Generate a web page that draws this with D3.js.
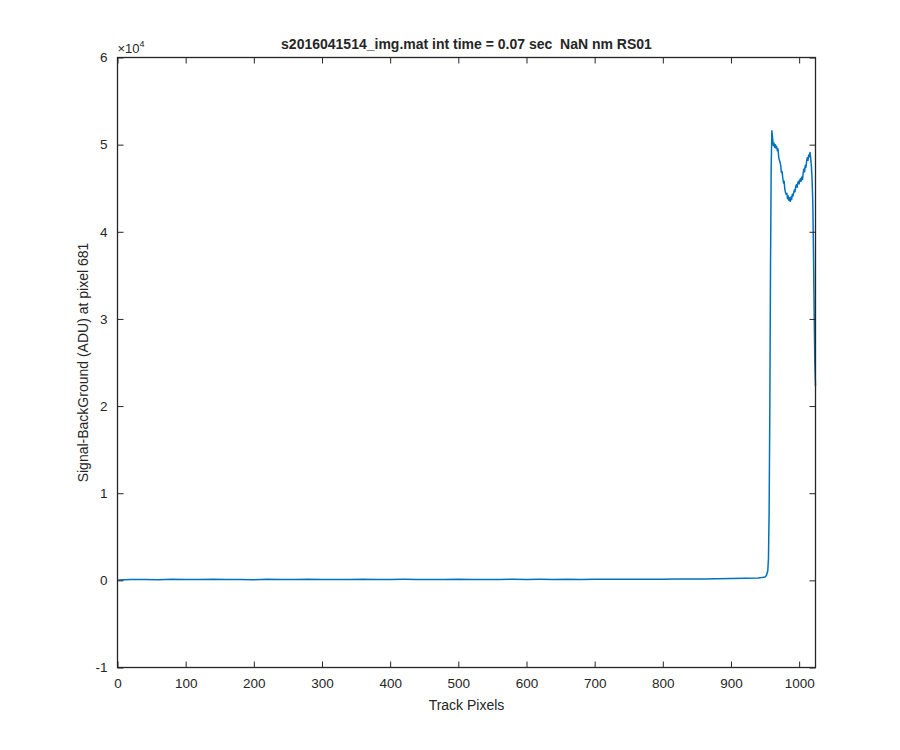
<!DOCTYPE html>
<html><head><meta charset="utf-8">
<script src="https://cdn.jsdelivr.net/npm/d3@7"></script>
<style>body{margin:0;background:#fff}svg{display:block}text{font-family:"Liberation Sans",Arial,sans-serif;fill:#262626}</style>
</head><body>
<script>
const title = "s2016041514_img.mat int time = 0.07 sec  NaN nm RS01";
const xLabel = "Track Pixels";
const yLabel = "Signal-BackGround (ADU) at pixel 681";
const xTicks = [0,100,200,300,400,500,600,700,800,900,1000];
const yTicks = [-1,0,1,2,3,4,5,6];
const pixels = [1,20,40,60,80,100,120,140,160,180,200,220,240,260,280,300,320,340,360,380,400,420,440,460,480,500,520,540,560,580,600,620,640,660,680,700,720,740,760,780,800,820,840,860,880,900,920,940,945,950,952,954,955,956,957,958,959,
960,961,962,963,964,965,966,967,968,969,970,971,972,973,974,975,976,977,978,979,980,981,982,983,984,985,986,987,988,989,990,991,992,993,994,995,996,997,998,999,1000,1001,1002,1003,1004,1005,1006,1007,1008,1009,1010,1011,1012,1013,1014,1015,1016,1017,1018,1019,1020,1021,1022,1023,1024];
const signal = [40,90,110,80,120,100,90,130,100,110,80,120,100,95,115,90,110,100,120,85,105,115,95,110,100,125,90,110,105,120,95,115,110,130,100,120,115,130,125,140,135,150,160,170,180,200,230,280,320,380,550,1100,2500,8000,20000,36000,47500,
51600,50800,49900,50200,49700,50000,49600,49800,49300,49500,48600,48200,48000,47600,46800,46900,46200,45600,45800,44900,44500,44300,44400,43800,44100,43600,43900,43500,44000,43700,44300,44100,44500,44800,44600,45200,45400,45100,45600,45800,45500,45900,46100,45800,46300,46000,46800,47200,46900,47600,47400,48100,48500,48200,48800,48600,49100,48400,47500,46000,43500,38000,31000,25000,22300];

const W=900,H=750, L=117.5, R=815.5, T=57.5, B=667.5;
const svg=d3.select("body").append("svg").attr("width",W).attr("height",H);
const x=d3.scaleLinear().domain([0,1024]).range([L,R]);
const y=d3.scaleLinear().domain([-1,6]).range([B,T]);
const col="#262626";
const fmt=d=>String(d);

// line
const data=pixels.map((p,i)=>[p,signal[i]/1e4]);
svg.append("path").datum(data).attr("fill","none").attr("stroke","#0072BD").attr("stroke-width",1.5)
  .attr("stroke-linejoin","round")
  .attr("d",d3.line().x(d=>x(d[0])).y(d=>y(d[1])));

// axes with inner ticks
const ax=(g,axis)=>{g.call(axis);g.select(".domain").remove();g.selectAll("line").attr("stroke",col);g.selectAll("text").attr("fill",col).style("font-size","13.5px");};
svg.append("g").attr("transform",`translate(0,${B})`).call(g=>ax(g,d3.axisBottom(x).tickValues(xTicks).tickFormat(fmt).tickSize(-6).tickPadding(11)));
svg.append("g").attr("transform",`translate(0,${T})`).call(g=>{ax(g,d3.axisTop(x).tickValues(xTicks).tickSize(-6).tickFormat(""));});
svg.append("g").attr("transform",`translate(${L},0)`).call(g=>ax(g,d3.axisLeft(y).tickValues(yTicks).tickFormat(fmt).tickSize(-6).tickPadding(10)));
svg.append("g").attr("transform",`translate(${R},0)`).call(g=>ax(g,d3.axisRight(y).tickValues(yTicks).tickSize(-6).tickFormat("")));
svg.append("rect").attr("x",L).attr("y",T).attr("width",R-L).attr("height",B-T).attr("fill","none").attr("stroke",col).attr("stroke-width",1.3);

// labels
svg.append("text").attr("x",(L+R)/2).attr("y",49).attr("text-anchor","middle").style("font-size","14px").style("font-weight","bold").style("white-space","pre").text(title);
svg.append("text").attr("x",(L+R)/2).attr("y",710).attr("text-anchor","middle").style("font-size","14px").text(xLabel);
svg.append("text").attr("transform",`translate(88,${(T+B)/2}) rotate(-90)`).attr("text-anchor","middle").style("font-size","14px").text(yLabel);
const ex=svg.append("text").attr("x",L).attr("y",53).style("font-size","13px");
ex.append("tspan").text("\u00d710");
ex.append("tspan").attr("dy",-6).style("font-size","9px").text("4");
</script>
</body></html>
